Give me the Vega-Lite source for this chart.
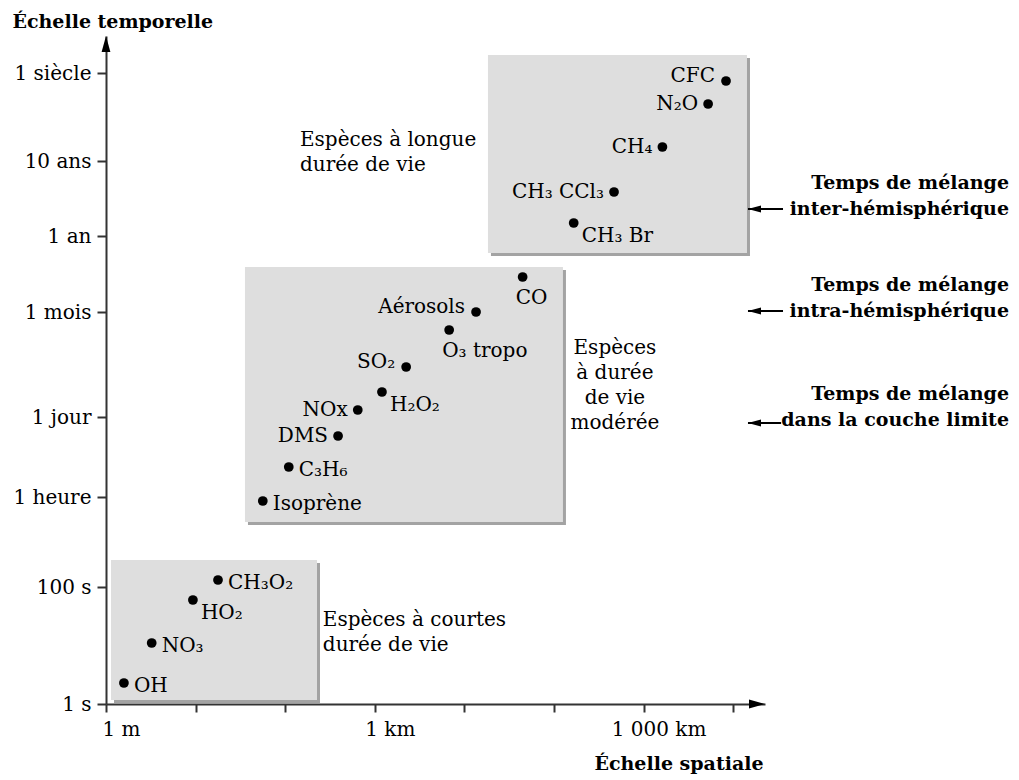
{
  "$schema": "https://vega.github.io/schema/vega-lite/v6.json",
  "width": 659,
  "height": 668,
  "autosize": {"type": "none"},
  "padding": {"left": 106, "top": 36, "right": 254, "bottom": 76},
  "background": "white",
  "config": {
    "view": {"stroke": null},
    "font": "DejaVu Serif",
    "text": {"font": "DejaVu Serif", "fontSize": 20, "color": "black"}
  },
  "datasets": {
    "species": [
      {"name": "OH", "x": 0.20, "y": 21},
      {"name": "NO₃", "x": 0.51, "y": 61},
      {"name": "HO₂", "x": 0.97, "y": 104},
      {"name": "CH₃O₂", "x": 1.25, "y": 124},
      {"name": "Isoprène", "x": 1.75, "y": 203},
      {"name": "C₃H₆", "x": 2.04, "y": 237},
      {"name": "DMS", "x": 2.59, "y": 268},
      {"name": "NOx", "x": 2.81, "y": 294},
      {"name": "H₂O₂", "x": 3.08, "y": 312},
      {"name": "SO₂", "x": 3.35, "y": 337},
      {"name": "O₃ tropo", "x": 3.83, "y": 374},
      {"name": "Aérosols", "x": 4.13, "y": 392},
      {"name": "CO", "x": 4.65, "y": 427},
      {"name": "CH₃ Br", "x": 5.22, "y": 481},
      {"name": "CH₃ CCl₃", "x": 5.67, "y": 512},
      {"name": "CH₄", "x": 6.21, "y": 557},
      {"name": "N₂O", "x": 6.72, "y": 600},
      {"name": "CFC", "x": 6.92, "y": 623}
    ],
    "boxes": [
      {"group": "courte", "x": 0.056, "x2": 2.355, "y": 4, "y2": 144},
      {"group": "moderee", "x": 1.551, "x2": 5.10, "y": 182, "y2": 437},
      {"group": "longue", "x": 4.263, "x2": 7.154, "y": 451, "y2": 649}
    ],
    "notesLeft": [
      {"text": "Espèces à longue\ndurée de vie", "x": 2.165, "y": 564},
      {"text": "Espèces à courtes\ndurée de vie", "x": 2.42, "y": 84}
    ],
    "notesCenter": [
      {"text": "Espèces\nà durée\nde vie\nmodérée", "x": 5.68, "y": 356}
    ],
    "mixing": [
      {"text": "Temps de mélange\ninter-hémisphérique", "x": 10.078, "y": 521},
      {"text": "Temps de mélange\nintra-hémisphérique", "x": 10.078, "y": 419},
      {"text": "Temps de mélange\ndans la couche limite", "x": 10.078, "y": 310}
    ],
    "mixArrows": [
      {"x": 7.165, "x2": 7.556, "y": 495},
      {"x": 7.165, "x2": 7.556, "y": 393},
      {"x": 7.165, "x2": 7.535, "y": 281}
    ],
    "axisTopEnd": [{"x": 0, "y": 668}],
    "axisRightEnd": [{"x": 7.355, "y": 0}]
  },
  "encoding": {
    "x": {
      "field": "x",
      "type": "quantitative",
      "scale": {"domain": [0, 7.355], "nice": false, "zero": false},
      "axis": {
        "values": [0, 1, 2, 3, 4, 5, 6, 7],
        "labelExpr": "datum.value == 0 ? '1 m' : datum.value == 3 ? '1 km' : datum.value == 6 ? '1 000 km' : ''",
        "grid": false,
        "domainColor": "#333333",
        "domainWidth": 2,
        "tickColor": "#333333",
        "tickWidth": 2,
        "tickSize": 8,
        "labelFont": "DejaVu Serif",
        "labelFontSize": 20,
        "labelColor": "black",
        "labelPadding": 7,
        "labelOffset": 15,
        "labelFlush": false,
        "labelOverlap": false,
        "title": "Échelle spatiale",
        "titleFont": "DejaVu Serif",
        "titleFontSize": 19,
        "titleFontWeight": "bold",
        "titleColor": "black",
        "titleX": 657,
        "titleY": 65,
        "titleAlign": "right",
        "titleBaseline": "alphabetic"
      }
    },
    "y": {
      "field": "y",
      "type": "quantitative",
      "scale": {"domain": [0, 668], "nice": false, "zero": false},
      "axis": {
        "values": [0, 117, 207, 287, 392, 468, 543, 631],
        "labelExpr": "datum.value == 0 ? '1 s' : datum.value == 117 ? '100 s' : datum.value == 207 ? '1 heure' : datum.value == 287 ? '1 jour' : datum.value == 392 ? '1 mois' : datum.value == 468 ? '1 an' : datum.value == 543 ? '10 ans' : '1 siècle'",
        "grid": false,
        "domainColor": "#333333",
        "domainWidth": 2,
        "tickColor": "#333333",
        "tickWidth": 2,
        "tickSize": 9,
        "labelFont": "DejaVu Serif",
        "labelFontSize": 20,
        "labelColor": "black",
        "labelPadding": 6,
        "labelFlush": false,
        "labelOverlap": false,
        "title": "Échelle temporelle",
        "titleFont": "DejaVu Serif",
        "titleFontSize": 19,
        "titleFontWeight": "bold",
        "titleColor": "black",
        "titleAngle": 0,
        "titleX": -94,
        "titleY": -9,
        "titleAlign": "left",
        "titleBaseline": "alphabetic"
      }
    }
  },
  "layer": [
    {
      "data": {"name": "boxes"},
      "mark": {"type": "rect", "fill": "#a3a3a3", "xOffset": 3, "x2Offset": 3, "yOffset": 3, "y2Offset": 3},
      "encoding": {"x2": {"field": "x2"}, "y2": {"field": "y2"}}
    },
    {
      "data": {"name": "boxes"},
      "mark": {"type": "rect", "fill": "#dedede"},
      "encoding": {"x2": {"field": "x2"}, "y2": {"field": "y2"}}
    },
    {
      "data": {"name": "species"},
      "mark": {"type": "circle", "size": 95, "color": "black", "opacity": 1}
    },
    {
      "data": {"name": "species"},
      "transform": [{"filter": {"field": "name", "oneOf": ["OH", "NO₃", "CH₃O₂", "Isoprène", "C₃H₆"]}}],
      "mark": {"type": "text", "align": "left", "baseline": "middle", "dx": 10, "dy": 3},
      "encoding": {"text": {"field": "name"}}
    },
    {
      "data": {"name": "species"},
      "transform": [{"filter": {"field": "name", "oneOf": ["HO₂", "H₂O₂", "CH₃ Br"]}}],
      "mark": {"type": "text", "align": "left", "baseline": "middle", "dx": 8, "dy": 13},
      "encoding": {"text": {"field": "name"}}
    },
    {
      "data": {"name": "species"},
      "transform": [{"filter": {"field": "name", "oneOf": ["DMS", "NOx", "CH₄", "N₂O", "CH₃ CCl₃"]}}],
      "mark": {"type": "text", "align": "right", "baseline": "middle", "dx": -10, "dy": 0},
      "encoding": {"text": {"field": "name"}}
    },
    {
      "data": {"name": "species"},
      "transform": [{"filter": {"field": "name", "oneOf": ["SO₂", "Aérosols", "CFC"]}}],
      "mark": {"type": "text", "align": "right", "baseline": "middle", "dx": -11, "dy": -5},
      "encoding": {"text": {"field": "name"}}
    },
    {
      "data": {"name": "species"},
      "transform": [{"filter": {"field": "name", "oneOf": ["O₃ tropo", "CO"]}}],
      "mark": {"type": "text", "align": "left", "baseline": "middle", "dx": -7, "dy": 21},
      "encoding": {"text": {"field": "name"}}
    },
    {
      "data": {"name": "notesLeft"},
      "mark": {"type": "text", "align": "left", "baseline": "middle", "lineBreak": "\n", "lineHeight": 25},
      "encoding": {"text": {"field": "text"}}
    },
    {
      "data": {"name": "notesCenter"},
      "mark": {"type": "text", "align": "center", "baseline": "middle", "lineBreak": "\n", "lineHeight": 25},
      "encoding": {"text": {"field": "text"}}
    },
    {
      "data": {"name": "mixing"},
      "mark": {"type": "text", "align": "right", "baseline": "middle", "lineBreak": "\n", "lineHeight": 26, "fontWeight": "bold", "fontSize": 19},
      "encoding": {"text": {"field": "text"}}
    },
    {
      "data": {"name": "mixArrows"},
      "mark": {"type": "rule", "color": "black", "strokeWidth": 1.8},
      "encoding": {"x2": {"field": "x2"}}
    },
    {
      "data": {"name": "mixArrows"},
      "mark": {"type": "point", "shape": "M-1,0L1,-0.55L1,0.55Z", "filled": true, "color": "black", "opacity": 1, "size": 169, "xOffset": 6.5}
    },
    {
      "data": {"name": "axisTopEnd"},
      "mark": {"type": "point", "shape": "M0,-1L0.55,1L-0.55,1Z", "filled": true, "color": "black", "opacity": 1, "size": 256, "yOffset": 8}
    },
    {
      "data": {"name": "axisRightEnd"},
      "mark": {"type": "point", "shape": "M1,0L-1,-0.55L-1,0.55Z", "filled": true, "color": "black", "opacity": 1, "size": 256, "xOffset": -8}
    }
  ]
}
